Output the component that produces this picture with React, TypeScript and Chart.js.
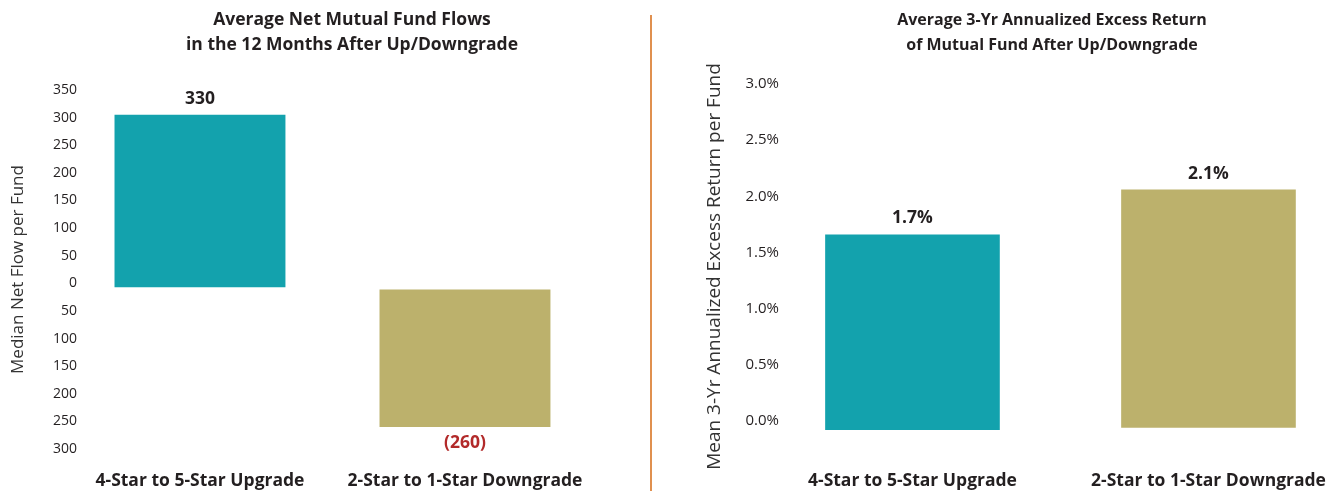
import React, { useEffect, useRef } from "react";
import { Chart, registerables } from "chart.js";

Chart.register(...registerables);

// ---------- data ----------
const categories = ["4-Star to 5-Star Upgrade", "2-Star to 1-Star Downgrade"];
const barColors = ["#13a2ad", "#bcb16c"];

// Left chart: median net flow per fund (bars as drawn: [base, end])
const flowBarStart = [-7, -11];
const flowBarEnd = [305, -260];
const flowLabels = ["330", "(260)"];
const flowLabelColors = ["#231f20", "#b22a2a"];
const flowTicks = [350, 300, 250, 200, 150, 100, 50, 0, -50, -100, -150, -200, -250, -300];
const flowTitle = ["Average Net Mutual Fund Flows", "in the 12 Months After Up/Downgrade"];
const flowAxisTitle = "Median Net Flow per Fund";

// Right chart: mean 3-yr annualized excess return (%)
const retBarStart = [-0.08, -0.06];
const retBarEnd = [1.66, 2.06];
const retLabels = ["1.7%", "2.1%"];
const retLabelColors = ["#231f20", "#231f20"];
const retTicks = [0, 0.5, 1.0, 1.5, 2.0, 2.5, 3.0];
const retTitle = ["Average 3-Yr Annualized Excess Return", "of Mutual Fund After Up/Downgrade"];
const retAxisTitle = "Mean 3-Yr Annualized Excess Return per Fund";

const FONT = "'Open Sans', 'Noto Sans', sans-serif";
const TEXT = "#231f20";

type Cfg = {
  start: number[];
  end: number[];
  labels: string[];
  labelColors: string[];
  ticks: number[];
  tickFmt: (v: number) => string;
  tickSize: number;
  title: string[];
  titleX: number;
  titleSize: number;
  axisTitle: string;
  axisTitleSize: number;
  axisTitlePad: number;
  yMin: number;
  yMax: number;
  yWidth: number;
  xMin: number;
  xMax: number;
  barPct: number;
  padLeft: number;
  padRight: number;
  top: number;
};

function makeConfig(c: Cfg): any {
  const valueLabels = {
    id: "valueLabels",
    afterDatasetsDraw(chart: any) {
      const ctx = chart.ctx;
      const meta = chart.getDatasetMeta(0);
      ctx.save();
      ctx.font = `bold 17.5px ${FONT}`;
      ctx.textAlign = "center";
      ctx.textBaseline = "middle";
      meta.data.forEach((bar: any, i: number) => {
        const up = c.end[i] >= 0;
        const yEdge = up ? Math.min(bar.y, bar.base) : Math.max(bar.y, bar.base);
        ctx.fillStyle = c.labelColors[i];
        ctx.fillText(c.labels[i], bar.x, up ? yEdge - 16 : yEdge + 16);
      });
      ctx.restore();
    },
  };
  const twoLineTitle = {
    id: "twoLineTitle",
    afterDraw(chart: any) {
      const ctx = chart.ctx;
      ctx.save();
      ctx.font = `bold ${c.titleSize}px ${FONT}`;
      ctx.fillStyle = TEXT;
      ctx.textAlign = "center";
      ctx.textBaseline = "middle";
      c.title.forEach((line, i) => ctx.fillText(line, c.titleX, 20 + i * 25));
      ctx.restore();
    },
  };
  return {
    type: "bar",
    data: {
      datasets: [
        {
          data: c.start.map((s, i) => ({ x: i, y: [s, c.end[i]] })),
          backgroundColor: barColors,
          borderWidth: 0,
          categoryPercentage: 1,
          barPercentage: c.barPct,
        },
      ],
    },
    options: {
      animation: false,
      responsive: false,
      maintainAspectRatio: false,
      layout: { padding: { top: c.top, left: c.padLeft, right: c.padRight, bottom: 0 } },
      plugins: { legend: { display: false }, tooltip: { enabled: false }, title: { display: false } },
      scales: {
        x: {
          type: "linear",
          offset: false,
          min: c.xMin,
          max: c.xMax,
          grid: { display: false, drawTicks: false, offset: false },
          border: { display: false },
          afterBuildTicks: (s: any) => {
            s.ticks = categories.map((_, i) => ({ value: i }));
          },
          afterFit: (s: any) => {
            s.height = 42;
            s.paddingLeft = 0;
            s.paddingRight = 0;
          },
          ticks: {
            padding: 22,
            maxRotation: 0,
            autoSkip: false,
            color: TEXT,
            font: { family: FONT, size: 17.5, weight: "bold" },
            callback: (v: number) => categories[Math.round(v)] ?? "",
          },
        },
        y: {
          type: "linear",
          min: c.yMin,
          max: c.yMax,
          grid: { display: false, drawTicks: false },
          border: { display: false },
          afterBuildTicks: (s: any) => {
            s.ticks = c.ticks.map((v) => ({ value: v }));
          },
          afterFit: (s: any) => {
            s.width = c.yWidth;
          },
          ticks: {
            padding: 13,
            color: TEXT,
            font: { family: FONT, size: c.tickSize },
            callback: (v: number) => c.tickFmt(v),
          },
          title: {
            display: true,
            text: c.axisTitle,
            color: "#333333",
            font: { family: FONT, size: c.axisTitleSize },
            padding: { top: c.axisTitlePad, bottom: 0 },
          },
        },
      },
    },
    plugins: [valueLabels, twoLineTitle],
  };
}

function ChartCanvas({ cfg, left, width }: { cfg: Cfg; left: number; width: number }) {
  const ref = useRef<HTMLCanvasElement>(null);
  useEffect(() => {
    if (!ref.current) return;
    const chart = new Chart(ref.current, makeConfig(cfg));
    return () => chart.destroy();
  }, []);
  return (
    <canvas
      ref={ref}
      width={width}
      height={491}
      style={{ position: "absolute", left, top: 0, width, height: 491 }}
    />
  );
}

const leftCfg: Cfg = {
  start: flowBarStart,
  end: flowBarEnd,
  labels: flowLabels,
  labelColors: flowLabelColors,
  ticks: flowTicks,
  tickFmt: (v) => String(Math.abs(v)),
  tickSize: 14,
  title: flowTitle,
  titleX: 352,
  titleSize: 17.5,
  axisTitle: flowAxisTitle,
  axisTitleSize: 17,
  axisTitlePad: 8,
  yMin: -300,
  yMax: 350,
  yWidth: 90,
  xMin: -0.415,
  xMax: 1.585,
  barPct: 0.645,
  padLeft: 0,
  padRight: 31,
  top: 90,
};

const rightCfg: Cfg = {
  start: retBarStart,
  end: retBarEnd,
  labels: retLabels,
  labelColors: retLabelColors,
  ticks: retTicks,
  tickFmt: (v) => v.toFixed(1) + "%",
  tickSize: 15,
  title: retTitle,
  titleX: 400,
  titleSize: 16,
  axisTitle: retAxisTitle,
  axisTitleSize: 19,
  axisTitlePad: 51,
  yMin: -0.25,
  yMax: 3.0,
  yWidth: 140,
  xMin: -0.407,
  xMax: 1.37,
  barPct: 0.59,
  padLeft: 0,
  padRight: 10,
  top: 84,
};

export default function App() {
  useEffect(() => {
    document.body.style.margin = "0";
    document.body.style.overflow = "hidden";
  }, []);
  return (
    <div style={{ position: "relative", width: 1328, height: 491, background: "#ffffff", overflow: "hidden" }}>
      <ChartCanvas cfg={leftCfg} left={0} width={651} />
      <div
        style={{ position: "absolute", left: 650, top: 15, width: 1.5, height: 476, background: "#e0904f" }}
      />
      <ChartCanvas cfg={rightCfg} left={652} width={676} />
    </div>
  );
}
